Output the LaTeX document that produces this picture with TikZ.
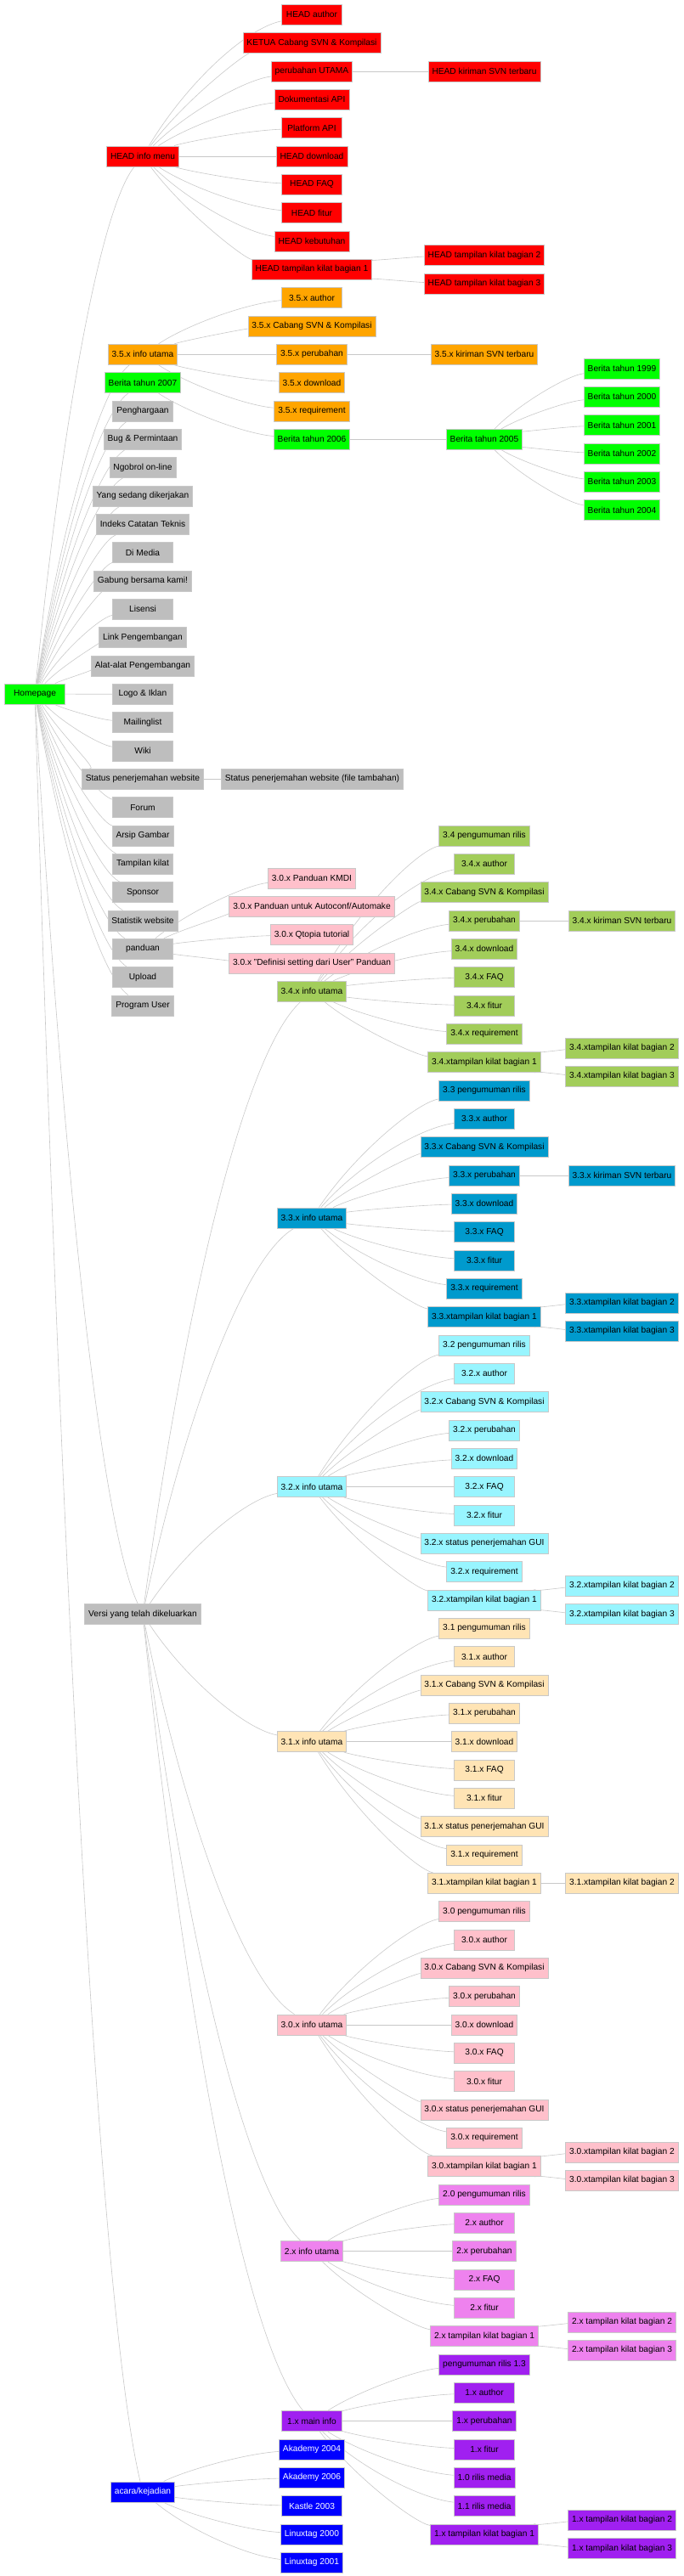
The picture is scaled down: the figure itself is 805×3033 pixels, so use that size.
\documentclass[tikz,border=0pt]{standalone}
\usepackage{fontspec}
\setmainfont{Liberation Sans}
\usepackage{tikz}
\usetikzlibrary{calc,backgrounds}

\definecolor{rim}{RGB}{200,200,200}
\definecolor{wire}{RGB}{200,200,200}
\definecolor{cRed}{RGB}{255,0,0}
\definecolor{cOrange}{RGB}{255,165,0}
\definecolor{cGreen}{RGB}{0,255,0}
\definecolor{cGray}{RGB}{190,190,190}
\definecolor{c34}{RGB}{162,205,90}
\definecolor{c33}{RGB}{0,154,205}
\definecolor{c32}{RGB}{152,245,255}
\definecolor{c31}{RGB}{255,228,181}
\definecolor{c30}{RGB}{255,192,203}
\definecolor{c2}{RGB}{238,130,238}
\definecolor{c1}{RGB}{160,32,240}
\definecolor{cBlue}{RGB}{0,0,255}

\begin{document}
\begin{tikzpicture}[x=1pt, y=-1pt,
    box/.style={draw=rim, line width=0.8pt, minimum width=71pt, minimum height=24pt,
      inner xsep=4.5pt, inner ysep=0pt, font=\fontsize{10.2}{12}\selectfont},
    edge/.style={draw=wire, line width=0.6pt}]
\useasboundingbox (0,0) rectangle (805,3033);
% Nodes
\node[box, fill=cGreen] (home) at (41,817) {Homepage};
% HEAD
\node[box, fill=cRed] (hinfo) at (168,{17.3+33.333*5}) {HEAD info menu};
\foreach \t [count=\i] in {HEAD author,KETUA Cabang SVN \& Kompilasi,perubahan UTAMA,
    Dokumentasi API,Platform API,HEAD download,HEAD FAQ,HEAD fitur,HEAD kebutuhan,
    HEAD tampilan kilat bagian 1}
  \node[box, fill=cRed] (hd-\i) at (367,{17.3+33.333*(\i-1)}) {\t};
\node[box, fill=cRed] (hdk) at (570,{17.3+33.333*2}) {HEAD kiriman SVN terbaru};
\node[box, fill=cRed] (hdt2) at (570,{17.3+33.333*8.5}) {HEAD tampilan kilat bagian 2};
\node[box, fill=cRed] (hdt3) at (570,{17.3+33.333*9.5}) {HEAD tampilan kilat bagian 3};
% 3.5
\node[box, fill=cOrange] (v35) at (168,{17.3+33.333*12}) {3.5.x info utama};
\foreach \t [count=\i] in {3.5.x author,3.5.x Cabang SVN \& Kompilasi,3.5.x perubahan,
    3.5.x download,3.5.x requirement}
  \node[box, fill=cOrange] (or-\i) at (367,{17.3+33.333*(9+\i)}) {\t};
\node[box, fill=cOrange] (ork) at (570,{17.3+33.333*12}) {3.5.x kiriman SVN terbaru};
% Berita
\node[box, fill=cGreen] (b2007) at (168,{17.3+33.333*13}) {Berita tahun 2007};
\node[box, fill=cGreen] (b2006) at (367,{17.3+33.333*15}) {Berita tahun 2006};
\node[box, fill=cGreen] (b2005) at (570,{17.3+33.333*15}) {Berita tahun 2005};
\foreach \t [count=\i] in {1999,2000,2001,2002,2003,2004}
  \node[box, fill=cGreen] (by-\i) at (732,{17.3+33.333*(11.5+\i)}) {Berita tahun \t};
% gray menu
\foreach \t [count=\i] in {Penghargaan,Bug \& Permintaan,Ngobrol on-line,
    Yang sedang dikerjakan,Indeks Catatan Teknis,Di Media,Gabung bersama kami!,Lisensi,
    Link Pengembangan,Alat-alat Pengembangan,Logo \& Iklan,Mailinglist,Wiki,
    Status penerjemahan website,Forum,Arsip Gambar,Tampilan kilat,Sponsor,
    Statistik website,panduan,Upload,Program User}
  \node[box, fill=cGray] (gr-\i) at (168,{17.3+33.333*(13+\i)}) {\t};
\node[box, fill=cGray, anchor=west] (grx) at (260,{17.3+33.333*27})
  {Status penerjemahan website (file tambahan)};
\foreach \t [count=\i] in {3.0.x Panduan KMDI,{3.0.x Panduan untuk Autoconf/Automake},
    3.0.x Qtopia tutorial,3.0.x "Definisi setting dari User" Panduan}
  \node[box, fill=c30] (pd-\i) at (367,{17.3+33.333*(29.5+\i)}) {\t};
\node[box, fill=cGray] (versi) at (168,{17.3+33.333*56.5}) {Versi yang telah dikeluarkan};
% 3.4
\node[box, fill=c34] (v34) at (367,{17.3+33.333*34.5}) {3.4.x info utama};
\foreach \t [count=\i] in {3.4 pengumuman rilis,3.4.x author,3.4.x Cabang SVN \& Kompilasi,
    3.4.x perubahan,3.4.x download,3.4.x FAQ,3.4.x fitur,3.4.x requirement,
    3.4.xtampilan kilat bagian 1}
  \node[box, fill=c34] (v34-\i) at (570,{17.3+33.333*(28+\i)}) {\t};
\node[box, fill=c34] (v34k) at (732,{17.3+33.333*32}) {3.4.x kiriman SVN terbaru};
\node[box, fill=c34] (v34b2) at (732,{17.3+33.333*36.5}) {3.4.xtampilan kilat bagian 2};
\node[box, fill=c34] (v34b3) at (732,{17.3+33.333*37.5}) {3.4.xtampilan kilat bagian 3};
% 3.3
\node[box, fill=c33] (v33) at (367,{17.3+33.333*42.5}) {3.3.x info utama};
\foreach \t [count=\i] in {3.3 pengumuman rilis,3.3.x author,3.3.x Cabang SVN \& Kompilasi,
    3.3.x perubahan,3.3.x download,3.3.x FAQ,3.3.x fitur,3.3.x requirement,
    3.3.xtampilan kilat bagian 1}
  \node[box, fill=c33] (v33-\i) at (570,{17.3+33.333*(37+\i)}) {\t};
\node[box, fill=c33] (v33k) at (732,{17.3+33.333*41}) {3.3.x kiriman SVN terbaru};
\node[box, fill=c33] (v33b2) at (732,{17.3+33.333*45.5}) {3.3.xtampilan kilat bagian 2};
\node[box, fill=c33] (v33b3) at (732,{17.3+33.333*46.5}) {3.3.xtampilan kilat bagian 3};
% 3.2
\node[box, fill=c32] (v32) at (367,{17.3+33.333*52}) {3.2.x info utama};
\foreach \t [count=\i] in {3.2 pengumuman rilis,3.2.x author,3.2.x Cabang SVN \& Kompilasi,
    3.2.x perubahan,3.2.x download,3.2.x FAQ,3.2.x fitur,3.2.x status penerjemahan GUI,
    3.2.x requirement,3.2.xtampilan kilat bagian 1}
  \node[box, fill=c32] (v32-\i) at (570,{17.3+33.333*(46+\i)}) {\t};
\node[box, fill=c32] (v32b2) at (732,{17.3+33.333*55.5}) {3.2.xtampilan kilat bagian 2};
\node[box, fill=c32] (v32b3) at (732,{17.3+33.333*56.5}) {3.2.xtampilan kilat bagian 3};
% 3.1
\node[box, fill=c31] (v31) at (367,{17.3+33.333*61}) {3.1.x info utama};
\foreach \t [count=\i] in {3.1 pengumuman rilis,3.1.x author,3.1.x Cabang SVN \& Kompilasi,
    3.1.x perubahan,3.1.x download,3.1.x FAQ,3.1.x fitur,3.1.x status penerjemahan GUI,
    3.1.x requirement,3.1.xtampilan kilat bagian 1}
  \node[box, fill=c31] (v31-\i) at (570,{17.3+33.333*(56+\i)}) {\t};
\node[box, fill=c31] (v31b2) at (732,{17.3+33.333*66}) {3.1.xtampilan kilat bagian 2};
% 3.0
\node[box, fill=c30] (v30) at (367,{17.3+33.333*71}) {3.0.x info utama};
\foreach \t [count=\i] in {3.0 pengumuman rilis,3.0.x author,3.0.x Cabang SVN \& Kompilasi,
    3.0.x perubahan,3.0.x download,3.0.x FAQ,3.0.x fitur,3.0.x status penerjemahan GUI,
    3.0.x requirement,3.0.xtampilan kilat bagian 1}
  \node[box, fill=c30] (v30-\i) at (570,{17.3+33.333*(66+\i)}) {\t};
\node[box, fill=c30] (v30b2) at (732,{17.3+33.333*75.5}) {3.0.xtampilan kilat bagian 2};
\node[box, fill=c30] (v30b3) at (732,{17.3+33.333*76.5}) {3.0.xtampilan kilat bagian 3};
% 2.x
\node[box, fill=c2] (v2) at (367,{17.3+33.333*79}) {2.x info utama};
\foreach \t [count=\i] in {2.0 pengumuman rilis,2.x author,2.x perubahan,2.x FAQ,2.x fitur,
    2.x tampilan kilat bagian 1}
  \node[box, fill=c2] (v2-\i) at (570,{17.3+33.333*(76+\i)}) {\t};
\node[box, fill=c2] (v2b2) at (732,{17.3+33.333*81.5}) {2.x tampilan kilat bagian 2};
\node[box, fill=c2] (v2b3) at (732,{17.3+33.333*82.5}) {2.x tampilan kilat bagian 3};
% 1.x
\node[box, fill=c1] (v1) at (367,{17.3+33.333*85}) {1.x main info};
\foreach \t [count=\i] in {pengumuman rilis 1.3,1.x author,1.x perubahan,1.x fitur,
    1.0 rilis media,1.1 rilis media,1.x tampilan kilat bagian 1}
  \node[box, fill=c1] (v1-\i) at (570,{17.3+33.333*(82+\i)}) {\t};
\node[box, fill=c1] (v1b2) at (732,{17.3+33.333*88.5}) {1.x tampilan kilat bagian 2};
\node[box, fill=c1] (v1b3) at (732,{17.3+33.333*89.5}) {1.x tampilan kilat bagian 3};
% acara
\node[box, fill=cBlue, text=white] (acara) at (168,{17.3+33.333*87.5}) {acara/kejadian};
\foreach \t [count=\i] in {Akademy 2004,Akademy 2006,Kastle 2003,Linuxtag 2000,Linuxtag 2001}
  \node[box, fill=cBlue, text=white] (ac-\i) at (367,{17.3+33.333*(85+\i)}) {\t};
% Edges
\begin{scope}[on background layer]
\foreach \a/\b in {home/hinfo,home/v35,home/b2007,home/versi,home/acara,
    hd-3/hdk,hd-10/hdt2,hd-10/hdt3,or-3/ork,b2007/b2006,b2006/b2005,gr-14/grx,
    versi/v34,versi/v33,versi/v32,versi/v31,versi/v30,versi/v2,versi/v1,
    v34-4/v34k,v34-9/v34b2,v34-9/v34b3,v33-4/v33k,v33-9/v33b2,v33-9/v33b3,
    v32-10/v32b2,v32-10/v32b3,v31-10/v31b2,v30-10/v30b2,v30-10/v30b3,
    v2-6/v2b2,v2-6/v2b3,v1-7/v1b2,v1-7/v1b3}
  \draw[edge] let \p1=(\a.center), \p2=(\b.center) in
    (\a) .. controls ({\x1+0.25*(\x2-\x1)},{\y1+0.5*(\y2-\y1)})
    and ({\x2-0.4*(\x2-\x1)},{\y2-0.1*(\y2-\y1)}) .. (\b);
\foreach \a/\b/\k in {hinfo/hd/10,v35/or/5,b2005/by/6,home/gr/22,gr-20/pd/4,
    v34/v34/9,v33/v33/9,v32/v32/10,v31/v31/10,v30/v30/10,v2/v2/6,v1/v1/7,acara/ac/5}
  \foreach \i in {1,...,\k}
    \draw[edge] let \p1=(\a.center), \p2=(\b-\i.center) in
      (\a) .. controls ({\x1+0.25*(\x2-\x1)},{\y1+0.5*(\y2-\y1)})
      and ({\x2-0.4*(\x2-\x1)},{\y2-0.1*(\y2-\y1)}) .. (\b-\i);
\end{scope}
\end{tikzpicture}
\end{document}
